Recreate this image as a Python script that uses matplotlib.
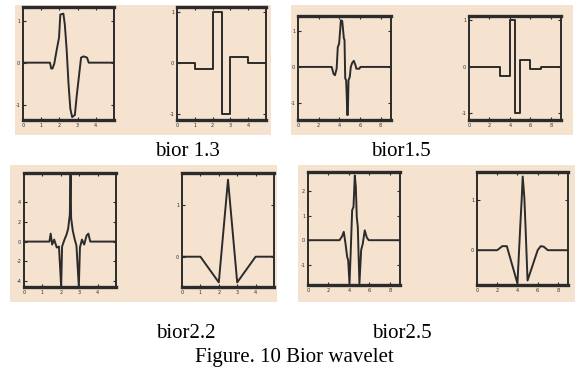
from __future__ import annotations

import matplotlib

matplotlib.use("Agg")
import matplotlib.pyplot as plt
from matplotlib.patches import Rectangle

# bior1.3 decomposition wavelet
bior13_dec_x = [0, 1.48, 1.55, 1.62, 1.72, 1.85, 1.98, 2.05, 2.22, 2.30, 2.40, 2.50,
                2.60, 2.70, 2.85, 2.95, 3.19, 3.33, 3.52, 3.61, 5]
bior13_dec_y = [0, 0, -0.14, -0.14, -0.02, 0.30, 0.60, 1.15, 1.17, 0.90, 0.30, -0.50,
                -1.10, -1.30, -1.25, -0.80, 0.12, 0.15, 0.12, 0.0, 0]
# bior1.3 reconstruction wavelet (piecewise constant)
bior13_rec_x = [0, 1, 2, 2.5, 3, 4, 5]
bior13_rec_y = [0, -0.125, 1, -1, 0.125, 0, 0]

# bior1.5 decomposition wavelet
bior15_dec_x = [0, 3.26, 3.45, 3.58, 3.74, 3.85, 3.98, 4.15, 4.28, 4.44, 4.50, 4.57,
                4.66, 4.73, 4.76, 4.82, 4.89, 5.01, 5.11, 5.24, 5.40, 5.56, 5.65,
                5.94, 6.04, 9]
bior15_dec_y = [0, 0, -0.20, -0.23, -0.05, 0.55, 0.65, 1.30, 1.28, 0.79, 0.76, -0.32,
                -0.37, -0.93, -1.34, -1.34, -0.37, -0.28, 0.0, 0.11, 0.17, 0.05, -0.05,
                -0.05, 0.0, 0]
# bior1.5 reconstruction wavelet (piecewise constant)
bior15_rec_x = [0, 3, 4, 4.5, 5, 6, 7, 9]
bior15_rec_y = [0, -0.2, 1, -1, 0.15, -0.05, 0, 0]

# bior2.2 decomposition wavelet
bior22_dec_x = [0, 1.38, 1.45, 1.53, 1.64, 1.78, 1.90, 2.02, 2.07, 2.20, 2.31, 2.40,
                2.49, 2.53, 2.56, 2.65, 2.76, 2.85, 2.98, 3.04, 3.15, 3.27, 3.40,
                3.50, 3.60, 5]
bior22_dec_y = [0, 0, 0.8, -0.3, 0.2, -0.6, -0.5, -4.55, -0.5, 0.2, 0.7, 1.3,
                2.7, 6.9, 2.4, 1.1, 0.2, -0.4, -4.55, -0.6, 0.2, -0.3, 0.6,
                0.8, 0.0, 0]
# bior2.2 reconstruction wavelet
bior22_rec_x = [0, 1, 2, 2.5, 3, 4, 5]
bior22_rec_y = [0, 0, -0.5, 1.5, -0.5, 0, 0]

# bior2.5 decomposition wavelet
bior25_dec_x = [0, 3.08, 3.34, 3.50, 3.67, 3.83, 3.93, 4.06, 4.16, 4.32, 4.45, 4.58,
                4.68, 4.77, 4.87, 5.03, 5.20, 5.36, 5.55, 5.75, 5.94, 9]
bior25_dec_y = [0, 0, 0.16, 0.34, -0.14, -0.68, -0.81, -1.78, -0.68, 1.22, 1.35, 2.63,
                2.16, 0.95, 0.54, -1.76, -0.40, -0.14, 0.40, 0.11, 0.0, 0]
# bior2.5 reconstruction wavelet
bior25_rec_x = [0, 2.0, 2.5, 2.95, 4.0, 4.3, 4.43, 4.52, 4.68, 4.8, 5.0, 6.0, 6.3,
                6.6, 7.0, 9]
bior25_rec_y = [0, 0, 0.08, 0.08, -0.66, 0.56, 1.05, 1.46, 1.05, 0.46, -0.6, 0.0, 0.08,
                0.07, 0.0, 0]

captions = ["bior 1.3", "bior1.5", "bior2.2", "bior2.5"]
figure_title = "Figure. 10 Bior wavelet"

BEIGE = "#f5e3cf"
INK = "#2b2b2b"
W, H = 577, 368


def px_axes(fig, x0, y0, x1, y1):
    # pixel box (top-left origin) -> figure axes
    ax = fig.add_axes([x0 / W, 1 - y1 / H, (x1 - x0) / W, (y1 - y0) / H])
    ax.set_zorder(2)
    return ax


def draw_wavelet(ax, xs, ys, xlim, ylim, xticks, yticks, steps=False):
    ax.set_facecolor(BEIGE)
    ax.plot(xs, ys, color=INK, linewidth=1.4,
            drawstyle="steps-post" if steps else "default")
    ax.set_xlim(*xlim)
    ax.set_ylim(*ylim)
    ax.set_xticks(xticks)
    ax.set_yticks(yticks)
    ax.set_xticklabels([str(t) for t in xticks])
    ax.set_yticklabels([str(t) for t in yticks])
    ax.tick_params(direction="in", length=2, width=0.8, labelsize=3.5,
                   colors=INK, top=True, right=True, pad=2)
    for side, spine in ax.spines.items():
        spine.set_color(INK)
        spine.set_linewidth(2.4 if side in ("top", "bottom") else 1.4)


def main() -> None:
    fig = plt.figure(figsize=(W / 100, H / 100), dpi=100)
    fig.patch.set_facecolor("white")

    for x0, y0, x1, y1 in [(15, 5, 271, 135), (291, 5, 573, 135),
                           (10, 165, 277, 302), (298, 165, 575, 302)]:
        fig.patches.append(Rectangle((x0 / W, 1 - y1 / H), (x1 - x0) / W, (y1 - y0) / H,
                                     transform=fig.transFigure, facecolor=BEIGE,
                                     edgecolor="none", zorder=-10))

    ax = px_axes(fig, 23, 7, 114, 120)
    draw_wavelet(ax, bior13_dec_x, bior13_dec_y, (0, 5), (-1.37, 1.33),
                 [0, 1, 2, 3, 4], [-1, 0, 1])
    ax = px_axes(fig, 177, 7, 266, 120)
    draw_wavelet(ax, bior13_rec_x, bior13_rec_y, (0, 5), (-1.12, 1.1),
                 [0, 1, 2, 3, 4], [-1, 0, 1], steps=True)

    ax = px_axes(fig, 298, 16, 391, 120)
    draw_wavelet(ax, bior15_dec_x, bior15_dec_y, (0, 9), (-1.48, 1.42),
                 [0, 2, 4, 6, 8], [-1, 0, 1])
    ax = px_axes(fig, 469, 16, 561, 120)
    draw_wavelet(ax, bior15_rec_x, bior15_rec_y, (0, 9), (-1.14, 1.09),
                 [0, 2, 4, 6, 8], [-1, 0, 1], steps=True)

    ax = px_axes(fig, 24, 173, 116, 287)
    draw_wavelet(ax, bior22_dec_x, bior22_dec_y, (0, 5), (-4.57, 6.9),
                 [0, 1, 2, 3, 4], [-4, -2, 0, 2, 4])
    ax = px_axes(fig, 182, 173, 274, 287)
    draw_wavelet(ax, bior22_rec_x, bior22_rec_y, (0, 5), (-0.59, 1.63),
                 [0, 1, 2, 3, 4], [0, 1])

    ax = px_axes(fig, 308, 172, 400, 285)
    draw_wavelet(ax, bior25_dec_x, bior25_dec_y, (0, 9), (-1.82, 2.77),
                 [0, 2, 4, 6, 8], [-1, 0, 1, 2])
    ax = px_axes(fig, 477, 172, 568, 285)
    draw_wavelet(ax, bior25_rec_x, bior25_rec_y, (0, 9), (-0.69, 1.55),
                 [0, 2, 4, 6, 8], [0, 1])

    text_kw = dict(family="Liberation Serif", fontsize=15, color="black",
                   ha="center", va="baseline")
    for label, (cx, by) in zip(captions, [(187, 156), (401, 156), (186, 338), (402, 338)]):
        fig.text(cx / W, 1 - by / H, label, **text_kw)
    fig.text(294 / W, 1 - 362 / H, figure_title, **text_kw)

    fig.savefig("out.png", dpi=100, facecolor="white")


if __name__ == "__main__":
    main()
